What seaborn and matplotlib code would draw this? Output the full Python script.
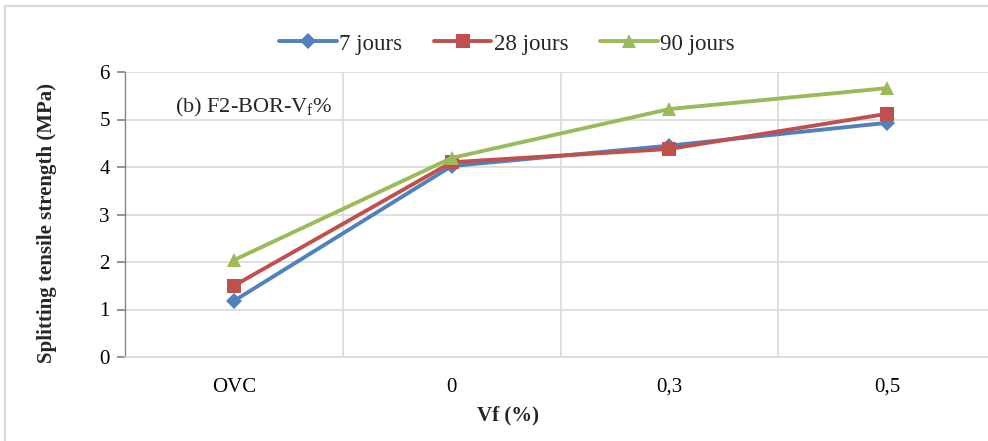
import matplotlib
matplotlib.use("Agg")
import matplotlib.pyplot as plt
import seaborn as sns
import pandas as pd
from matplotlib.patches import Rectangle
from matplotlib.ticker import FixedLocator

categories = ["OVC", "0", "0,3", "0,5"]
jours7 = [1.18, 4.02, 4.45, 4.93]
jours28 = [1.50, 4.10, 4.38, 5.12]
jours90 = [2.04, 4.19, 5.22, 5.66]
series_names = ["7 jours", "28 jours", "90 jours"]
yticks = [0, 1, 2, 3, 4, 5, 6]

sns.set_theme(style="white")
plt.rcParams["font.family"] = ["Liberation Serif", "DejaVu Serif"]
plt.rcParams["mathtext.fontset"] = "custom"
plt.rcParams["mathtext.rm"] = "Liberation Serif"
plt.rcParams["mathtext.it"] = "Liberation Serif:italic"

rows = []
for name, vals in zip(series_names, [jours7, jours28, jours90]):
    for c, v in zip(categories, vals):
        rows.append({"Vf": c, "val": v, "serie": name})
df = pd.DataFrame(rows)
df["Vf"] = pd.Categorical(df["Vf"], categories=categories, ordered=True)
df["pos"] = df["Vf"].cat.codes

colors = {"7 jours": "#4F81BD", "28 jours": "#C0504D", "90 jours": "#9BBB59"}
markers = {"7 jours": "D", "28 jours": "s", "90 jours": "^"}
msizes = {"7 jours": 8, "28 jours": 10, "90 jours": 10}

fig = plt.figure(figsize=(9.88, 4.41), dpi=100)
ax = fig.add_axes([125/988, 1-357/441, 871/988, (357-72)/441])

for name in series_names:
    sub = df[df["serie"] == name]
    sns.lineplot(data=sub, x="pos", y="val", ax=ax, color=colors[name],
                 marker=markers[name], markersize=msizes[name], linewidth=2.8,
                 markeredgewidth=0, label=name, sort=False, legend=False)

ax.set_xlim(-0.5, len(categories) - 0.5)
ax.set_ylim(0, 6)
ax.set_yticks(yticks)
ax.set_xticks(range(len(categories)))
ax.set_xticklabels(categories)
ax.xaxis.set_minor_locator(FixedLocator([i + 0.5 for i in range(len(categories) - 1)]))
ax.grid(True, axis="y", which="major", color="#D9D9D9", linewidth=1.2)
ax.grid(True, axis="x", which="minor", color="#D9D9D9", linewidth=1.2)
ax.grid(False, axis="x", which="major")
for s in ["top", "right"]:
    ax.spines[s].set_visible(False)
ax.spines["left"].set_color("#868686")
ax.spines["bottom"].set_color("#D9D9D9")
ax.spines["left"].set_linewidth(1.0)
ax.spines["bottom"].set_linewidth(1.2)
ax.tick_params(axis="y", which="major", left=True, length=6, color="#868686",
               labelsize=15, pad=5, labelcolor="black")
ax.tick_params(axis="x", which="both", bottom=False, labelsize=15, pad=9, labelcolor="black")
ax.set_xlabel("Vf (%)", fontsize=15, fontweight="bold")
ax.set_ylabel("Splitting tensile strength (MPa)", fontsize=15, fontweight="bold")
ax.xaxis.set_label_coords((508-125)/871, (357-405)/285)
ax.yaxis.set_label_coords((57-125)/871, 0.47)

ax.text((175-125)/871, (357-107)/285, r"(b) F2-BOR-V$_{\mathrm{f}}$%", transform=ax.transAxes,
        fontsize=16, ha="left", va="center")

handles, labels = ax.get_legend_handles_labels()
fig.legend(handles, labels, loc="center", bbox_to_anchor=(507/988, 1-44/441), ncol=3,
           frameon=False, fontsize=16.5, handlelength=2.5, columnspacing=1.4,
           handletextpad=0.1)

fig.patches.append(Rectangle((5/988, -0.1), 1.2, 1.1-6/441, transform=fig.transFigure,
                             fill=False, edgecolor="#D9D9D9", linewidth=1.5))

fig.savefig("out.png", dpi=100)
